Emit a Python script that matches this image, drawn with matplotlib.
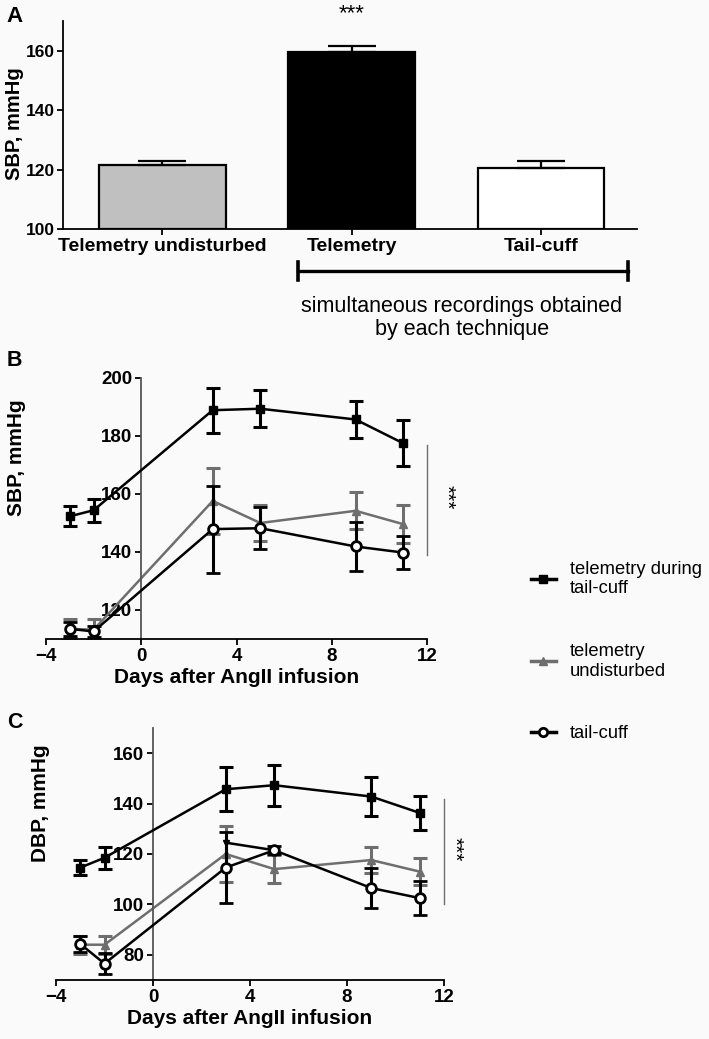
import matplotlib
matplotlib.use("Agg")
import matplotlib.pyplot as plt
import numpy as np

plt.rcParams['font.family'] = ['Liberation Sans', 'DejaVu Sans']

# panel A
bar_labels = ["Telemetry undisturbed", "Telemetry", "Tail-cuff"]
bar_means = [121.7, 159.6, 120.6]
bar_sem = [1.1, 2.1, 2.3]
bar_colors = ["#c0c0c0", "#000000", "#ffffff"]

# panels B and C (days after AngII infusion)
days = [-3, -2, 3, 5, 9, 11]

sbp_tail_tele = [152.3, 154.4, 188.9, 189.4, 185.7, 177.5]
sbp_tail_tele_err = [3.4, 4.0, 7.8, 6.3, 6.3, 8.0]
sbp_undist = [113.5, 113.2, 157.6, 150.0, 154.2, 149.6]
sbp_undist_err = [3.3, 3.7, 11.5, 6.3, 6.4, 6.6]
sbp_cuff = [113.5, 112.6, 147.9, 148.2, 141.9, 139.8]
sbp_cuff_err = [2.5, 2.0, 15.0, 7.2, 8.6, 5.8]

dbp_tail_tele = [114.6, 118.5, 145.7, 147.3, 142.8, 136.3]
dbp_tail_tele_err = [2.9, 4.4, 8.7, 8.1, 7.6, 6.8]
dbp_undist = [84.0, 84.0, 120.0, 114.0, 117.6, 113.0]
dbp_undist_err = [3.5, 3.5, 11.3, 5.6, 5.1, 5.4]
dbp_cuff = [84.3, 76.5, 114.6, 121.5, 106.5, 102.5]
dbp_cuff_err = [3.0, 4.2, 14.1, 1.5, 7.8, 6.7]
# stray overlay segment in the original panel C
dbp_extra_days = [3, 5]
dbp_extra = [124.5, 121.5]

W, H = 709, 1039
fig = plt.figure(figsize=(W / 100, H / 100), dpi=100, facecolor="#fafafa")


def box(l, t, r, b):
    return [l / W, 1 - b / H, (r - l) / W, (b - t) / H]


gray = "#6e6e6e"
tick_kw = dict(labelsize=13.5, width=1.3, length=4.5, pad=2)

# ---------------- A ----------------
axA = fig.add_axes(box(63, 21, 636.5, 229))
axA.set_facecolor("none")
x = np.arange(len(bar_means))
axA.bar(x, [m - 100 for m in bar_means], bottom=100, width=0.67, color=bar_colors,
        edgecolor="black", linewidth=1.6, zorder=2)
axA.errorbar(x, bar_means, yerr=[[0] * 3, bar_sem], fmt="none", ecolor="black",
             elinewidth=1.6, capsize=17, capthick=1.6, zorder=3)
axA.set_xlim(-0.523, 2.504)
axA.set_ylim(100, 170)
axA.set_yticks([100, 120, 140, 160])
axA.set_xticks(x)
axA.tick_params(**tick_kw)
axA.tick_params(axis="y", labelsize=12.5, pad=1)
axA.set_xticklabels(bar_labels, fontsize=14, fontweight="bold")
for s in ["top", "right"]:
    axA.spines[s].set_visible(False)
for s in ["left", "bottom"]:
    axA.spines[s].set_linewidth(1.3)
for t in axA.get_yticklabels():
    t.set_fontweight("bold")
axA.text(1, 172.5, "***", ha="center", va="center", fontsize=16, clip_on=False)
fig.add_artist(plt.Line2D([298 / W, 627.5 / W], [1 - 271 / H, 1 - 271 / H], color="black", lw=2.4))
for xx in (298, 627.5):
    fig.add_artist(plt.Line2D([xx / W, xx / W], [1 - 262 / H, 1 - 280 / H], color="black", lw=2.6))
fig.text(462 / W, 1 - 318 / H, "simultaneous recordings obtained\nby each technique",
         ha="center", va="center", fontsize=15.5, linespacing=1.12)
fig.text(15 / W, 1 - 124 / H, "SBP, mmHg", rotation=90, ha="center", va="center",
         fontsize=14.5, fontweight="bold")


# ---------------- B / C ----------------
def line_panel(ax, tele, tele_err, und, und_err, cuff, cuff_err, ylim, yticks):
    ax.set_facecolor("none")
    ax.errorbar(days, und, yerr=und_err, color=gray, marker="^", ms=6, lw=1.8,
                elinewidth=2.2, capsize=5, capthick=2.2, zorder=2)
    ax.errorbar(days, cuff, yerr=cuff_err, color="black", marker="o", ms=7, mfc="white",
                mew=2, lw=1.8, elinewidth=2.2, capsize=5, capthick=2.2, zorder=3)
    ax.errorbar(days, tele, yerr=tele_err, color="black", marker="s", ms=6, lw=1.8,
                elinewidth=2.2, capsize=5, capthick=2.2, zorder=4)
    ax.set_xlim(-4, 12)
    ax.set_ylim(*ylim)
    ax.set_xticks([-4, 0, 4, 8, 12])
    ax.set_yticks(yticks)
    ax.spines["left"].set_position(("data", 0))
    ax.spines["left"].set_color("#555555")
    ax.spines["left"].set_linewidth(1.3)
    ax.spines["bottom"].set_linewidth(1.3)
    for s in ["top", "right"]:
        ax.spines[s].set_visible(False)
    ax.tick_params(**tick_kw)
    for t in ax.get_xticklabels() + ax.get_yticklabels():
        t.set_fontweight("bold")
    ax.set_xlabel("Days after AngII infusion", fontsize=15, fontweight="bold", labelpad=2)
    return ax


axB = fig.add_axes(box(46, 378, 427, 639))
line_panel(axB, sbp_tail_tele, sbp_tail_tele_err, sbp_undist, sbp_undist_err,
           sbp_cuff, sbp_cuff_err, (110, 200), [120, 140, 160, 180, 200])
axB.plot([12, 12], [139, 177], color=gray, lw=1, clip_on=False)
axB.text(12.8, 159, "***", rotation=270, ha="center", va="center", fontsize=15, clip_on=False)
fig.text(17 / W, 1 - 458 / H, "SBP, mmHg", rotation=90, ha="center", va="center",
         fontsize=15, fontweight="bold")

axC = fig.add_axes(box(56, 728, 444, 980))
line_panel(axC, dbp_tail_tele, dbp_tail_tele_err, dbp_undist, dbp_undist_err,
           dbp_cuff, dbp_cuff_err, (70, 170), [80, 100, 120, 140, 160])
axC.plot(dbp_extra_days, dbp_extra, color="black", marker="v", ms=5, lw=1.8, zorder=3)
axC.plot([12, 12], [100, 141.7], color=gray, lw=1, clip_on=False)
axC.text(12.42, 122, "***", rotation=270, ha="center", va="center", fontsize=15, clip_on=False)
fig.text(40 / W, 1 - 803 / H, "DBP, mmHg", rotation=90, ha="center", va="center",
         fontsize=15, fontweight="bold")

# panel letters
fig.text(6 / W, 1 - 16 / H, "A", fontsize=16, fontweight="bold", va="center")
fig.text(7 / W, 1 - 361 / H, "B", fontsize=15.5, fontweight="bold", va="center")
fig.text(7 / W, 1 - 722 / H, "C", fontsize=15.5, fontweight="bold", va="center")

# legend
h1 = plt.Line2D([], [], color="black", marker="s", ms=6, lw=2.5)
h2 = plt.Line2D([], [], color=gray, marker="^", ms=6, lw=2.5)
h3 = plt.Line2D([], [], color="black", marker="o", ms=6, mfc="white", mew=2, lw=2.5)
fig.legend([h1, h2, h3], ["telemetry during\ntail-cuff", "telemetry\nundisturbed", "tail-cuff"],
           loc="upper left", bbox_to_anchor=(514 / W, 1 - 544 / H), frameon=False,
           fontsize=13.2, labelspacing=2.5, handlelength=1.4, handletextpad=0.75)

fig.savefig("out.png", dpi=100, facecolor=fig.get_facecolor())
